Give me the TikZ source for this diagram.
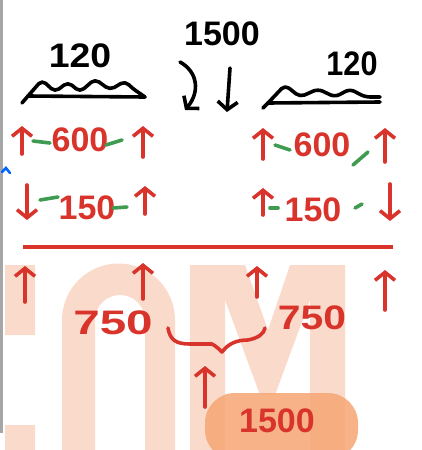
\documentclass[tikz,border=0pt]{standalone}
\usepackage{fontspec}
\setmainfont{Liberation Sans}
\usetikzlibrary{arrows.meta}
\definecolor{penred}{HTML}{D9342B}
\definecolor{pengreen}{HTML}{3E9B4F}
\definecolor{wmark}{HTML}{FADBCB}
\definecolor{blob}{HTML}{F6A573}

\tikzset{
  pen/.style={line width=3.6pt,line cap=round,line join=round},
  redup/.style={pen,penred,-{Straight Barb[length=8pt,width=20pt]}},
  blackdown/.style={pen,black,-{Straight Barb[length=8pt,width=20pt]}},
  greendash/.style={pen,pengreen},
  num/.style={font=\fontsize{34}{34}\selectfont\bfseries,inner sep=0pt},
}

\begin{document}
\begin{tikzpicture}[x=1pt,y=-1pt]
    \useasboundingbox (0,0) rectangle (422,450);
    % watermark letters and margin bar
    \fill[wmark] (5,265) rectangle (35,335) (5,425) rectangle (35,450);
    \fill[wmark,even odd rule] (62,450) -- (62,320) arc[start angle=180,end angle=360,radius=56.5] -- (175,450) -- cycle
      (95,450) -- (95,320) arc[start angle=180,end angle=360,radius=25] -- (145,450) -- cycle;
    \fill[wmark] (190,265) rectangle (225,450) (310,265) rectangle (345,450);
    \fill[wmark] (225,265) -- (245,265) -- (268,330) -- (290,265) -- (310,265) -- (310,300) -- (275,395) -- (260,395) -- (225,300) -- cycle;
    \fill[gray!70] (0,0) rectangle (3,433);
    \draw[line width=2.5pt,blue!60!cyan,line cap=round] (2,172) -- (6,168) -- (10,173);
    \fill[blob,opacity=0.85,rounded corners=30pt] (205,393) rectangle (358,460);

    % top: load 1500 and the two 120 surfaces
    \node[num,black] (ptop) at (222,34) {1500};
    \node[num,black,xscale=1.1] (qleft) at (80,56) {120};
    \node[num,black,xscale=0.9] (qright) at (352,64) {120};
    \draw[pen] (22,103) -- (28,96) -- (145,97);
    \draw[pen,rounded corners=5pt] (28,96) -- (42,80) -- (55,92) -- (68,82) -- (80,92) -- (95,79) -- (110,90) -- (125,81) -- (132,88) -- (145,97);
    \draw[pen] (263,108) -- (268,103) -- (380,102);
    \draw[pen,rounded corners=5pt] (268,103) -- (285,85) -- (300,97) -- (318,89) -- (335,97) -- (350,89) -- (365,97) -- (380,97);
    \draw[blackdown] (180,62) .. controls (198,72) and (200,92) .. (185,110);
    \draw[blackdown] (230,68) -- (227,112);

    % first row, 600
    \node[num,penred] (aleft) at (80,140) {600};
    \node[num,penred] (aright) at (322,145) {600};
    \draw[redup] (22,154) -- (22,126);
    \draw[redup] (143,157) -- (143,126);
    \draw[redup] (263,159) -- (263,128);
    \draw[redup] (385,162) -- (385,128);
    \draw[greendash] (33,141) -- (50,143);
    \draw[greendash] (106,145) -- (122,140);
    \draw[greendash] (275,145) -- (290,150);
    \draw[greendash] (353,165) -- (368,152);

    % second row, 150
    \node[num,penred] (bleft) at (87,208) {150};
    \node[num,penred] (bright) at (313,210) {150};
    \draw[redup] (27,185) -- (27,220);
    \draw[redup] (145,214) -- (145,186);
    \draw[redup] (263,215) -- (263,188);
    \draw[redup] (390,184) -- (390,221);
    \draw[greendash] (40,200) -- (58,197);
    \draw[greendash] (113,208) -- (127,207);
    \draw[greendash] (270,208) -- (278,208);
    \draw[greendash] (355,208) -- (362,204);

    % section line and reactions
    \draw[penred,line width=4.5pt] (23,247) -- (393,247);
    \draw[redup] (25,302) -- (25,266);
    \draw[redup] (143,299) -- (143,263);
    \draw[redup] (257,297) -- (257,266);
    \draw[redup] (385,310) -- (385,270);
    \node[num,penred,xscale=1.4] (rleft) at (113,323) {750};
    \node[num,penred,xscale=1.2] (rright) at (312,318) {750};
    \draw[pen,penred] (168,328) .. controls (170,340) and (176,344) .. (190,344) -- (212,344)
      .. controls (216,346) and (220,350) .. (222,352) .. controls (228,344) and (236,340) .. (248,340)
      .. controls (258,338) and (264,334) .. (265,328);
    \draw[redup] (205,407) -- (205,366);
    \node[num,penred] (rsum) at (277,421) {1500};
  \end{tikzpicture}
\end{document}
